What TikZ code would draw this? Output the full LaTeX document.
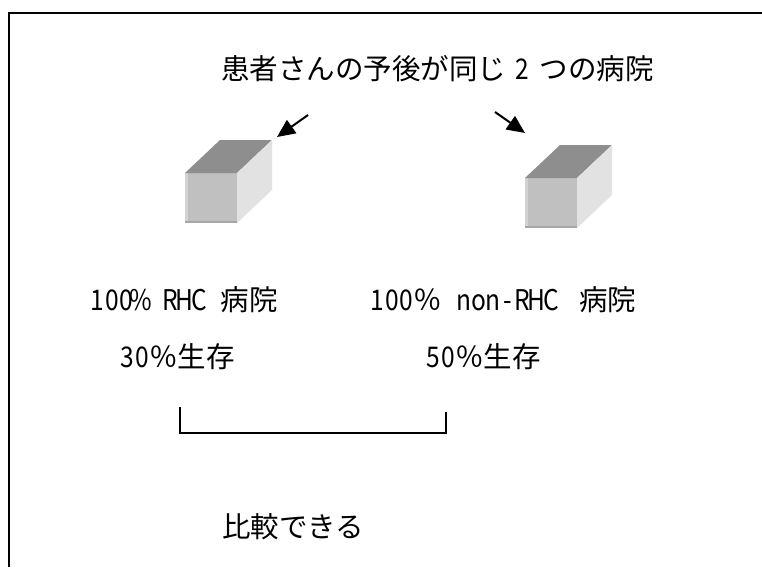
\documentclass[tikz,border=0pt]{standalone}
\usepackage{graphicx}
\usepackage{fontspec}
\setmainfont{Noto Sans CJK JP}
\usetikzlibrary{arrows.meta}
\definecolor{cubetop}{HTML}{8E8E8E}
\definecolor{cubefront}{HTML}{C0C0C0}
\definecolor{cubeside}{HTML}{E2E2E2}
\definecolor{cubelight}{HTML}{D2D2D2}
\definecolor{cubedark}{HTML}{A6A6A6}
\tikzset{
  txt/.style={inner sep=0pt, anchor=west, font=\fontsize{28.5}{28.5}\selectfont},
  pointer/.style={line width=2pt, -{Triangle[length=18pt,width=16pt]}},
  frame/.style={line width=1.8pt},
  bracket/.style={line width=1.2pt}
}
% half-width cells: every Latin character takes the same advance,
% its glyph narrowed a little to sit inside the cell
\newlength{\cellw}
\setlength{\cellw}{14.5pt}
\def\mono#1{\monoloop#1\relax}
\def\monoloop#1{\ifx#1\relax\else\makebox[\cellw]{\scalebox{0.86}[1]{#1}}\expandafter\monoloop\fi}
\newcommand{\cellgap}{\hspace*{\cellw}}
% box drawn with its front face lower-left corner at (#1,#2)
\newcommand{\hospitalbox}[2]{%
  \fill[cubefront] (#1,#2) rectangle ++(52,-50);
  \fill[cubelight] (#1,#2) rectangle ++(2.5,-50);
  \fill[cubedark] (#1,#2) rectangle ++(52,-2);
  \fill[cubetop] (#1,#2-50) -- ++(35,-33) -- ++(52,0) -- ++(-35,33) -- cycle;
  \fill[cubeside] (#1+52,#2) -- (#1+52,#2-50) -- ++(35,-33) -- ++(0,50) -- cycle;
}
\begin{document}
\begin{tikzpicture}[x=1pt,y=-1pt]
\useasboundingbox (0,0) rectangle (762,567);
\draw[frame] (9,567) -- (9,13) -- (764,13);

\node[txt] (title) at (221,69) {患者さんの予後が同じ\hspace*{9pt}\mono{2}\hspace*{10pt}つの病院};

\hospitalbox{185}{223}
\hospitalbox{525}{228}

\coordinate (a1s) at (308,115);
\coordinate (a1e) at (277,137);
\coordinate (a2s) at (495,112);
\coordinate (a2e) at (525,133);
\draw[pointer] (a1s) -- (a1e);
\draw[pointer] (a2s) -- (a2e);

\node[txt] (h1) at (90,300) {\mono{100\%}\cellgap\mono{RHC}\cellgap 病院};
\node[txt] (h2) at (370,300) {\mono{100}％\cellgap\mono{non-RHC}\hspace*{21pt}病院};
\node[txt] (s1) at (120,357) {\mono{30}％生存};
\node[txt] (s2) at (426,357) {\mono{50}％生存};

\coordinate (b1) at (180,407);
\coordinate (b2) at (446,412);
\draw[bracket] (b1) -- (b1 |- 0,433) -- (b2 |- 0,433) -- (b2);

\node[txt] (cmp) at (222,527) {比較できる};
\end{tikzpicture}
\end{document}
